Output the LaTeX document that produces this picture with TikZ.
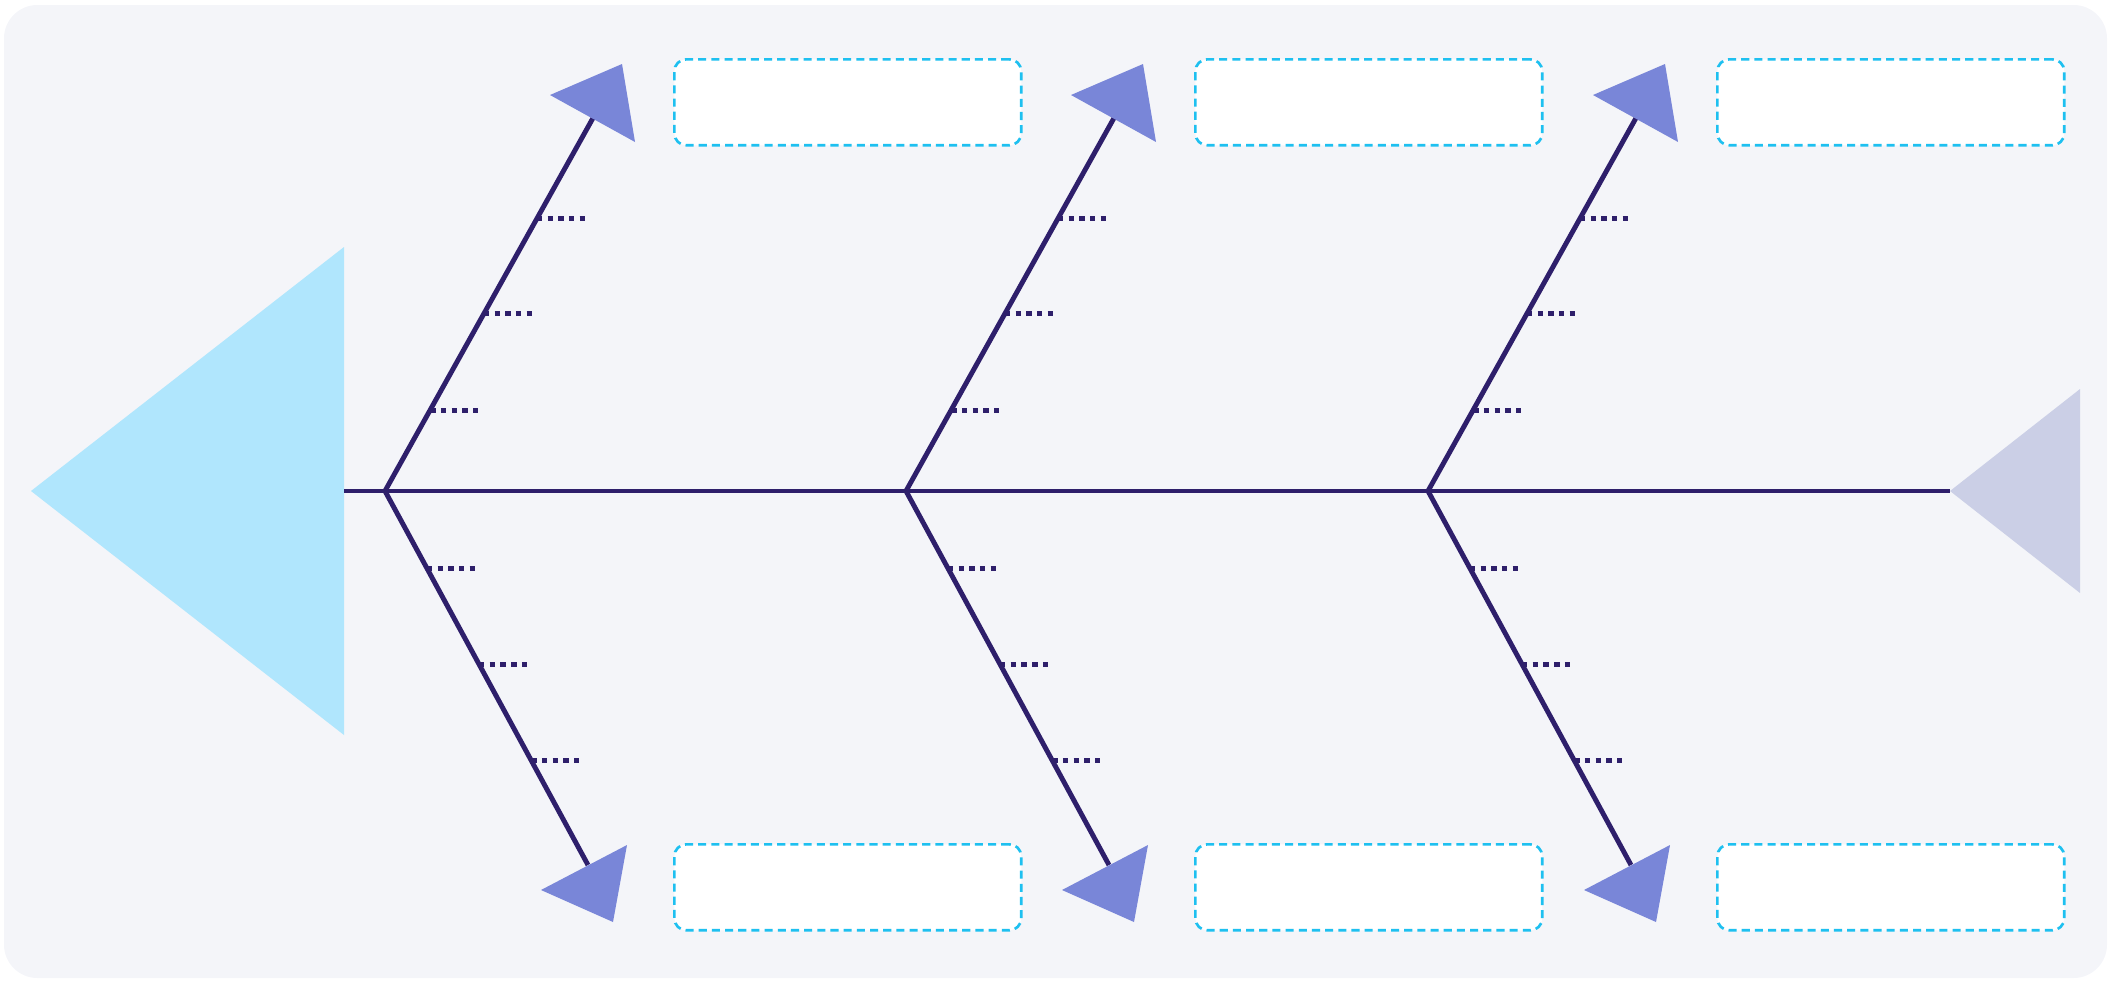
\documentclass[tikz,border=0pt]{standalone}
\usetikzlibrary{calc}
\definecolor{bgc}{RGB}{244,245,249}
\definecolor{headc}{RGB}{176,230,253}
\definecolor{tailc}{RGB}{203,207,230}
\definecolor{bonec}{RGB}{46,31,107}
\definecolor{arrc}{RGB}{121,134,216}
\definecolor{boxc}{RGB}{30,192,240}
\begin{document}
\begin{tikzpicture}[x=0.02cm,y=-0.02cm,
  bone/.style={draw=bonec,line width=2.8pt},
  tickline/.style={draw=bonec,line width=2.8pt,dash pattern=on 3.1pt off 3pt},
  labelbox/.style={draw=boxc,fill=white,line width=1.5pt,dash pattern=on 4.6pt off 2.9pt,
    rounded corners=6.8pt,minimum width=6.94cm,minimum height=1.72cm,inner sep=0pt,anchor=north west},
  headshape/.style={fill=headc},
  tailshape/.style={fill=tailc},
  arrowhead/.style={fill=arrc}]
\useasboundingbox (0,0) rectangle (2116,981);
\fill[bgc,rounded corners=19pt] (4,5) rectangle (2107,978);
\fill[headshape] (31,491) -- (344,247) -- (344,735) -- cycle;
\fill[tailshape] (1950,491) -- (2080,389) -- (2080,593) -- cycle;
\coordinate (S0) at (344,491);
\coordinate (S1) at (1950,491);
\draw[bone] (S0) -- (S1);
\foreach \n/\x in {1/385,2/906,3/1428} {
  \coordinate (J\n) at (\x,491);
  \coordinate (U\n) at ($(J\n)+(208,-373)$);
  \coordinate (D\n) at ($(J\n)+(203,374)$);
  \draw[bone,line join=miter] (U\n) -- (J\n) -- (D\n);
  \foreach \f in {0.217,0.475,0.73}
    \draw[tickline] ($(J\n)!\f!(U\n)$) -- ++(48,0);
  \foreach \f in {0.206,0.463,0.72}
    \draw[tickline] ($(J\n)!\f!(D\n)$) -- ++(48,0);
  \fill[arrowhead] ($(J\n)+(165,-396)$) -- ($(J\n)+(237,-427)$) -- ($(J\n)+(250,-349)$) -- cycle;
  \fill[arrowhead] ($(J\n)+(156,399)$) -- ($(J\n)+(242,354)$) -- ($(J\n)+(228,431)$) -- cycle;
  \node[labelbox] (T\n) at ($(J\n)+(288,-433)$) {};
  \node[labelbox] (B\n) at ($(J\n)+(288,352)$) {};
}
\end{tikzpicture}
\end{document}
